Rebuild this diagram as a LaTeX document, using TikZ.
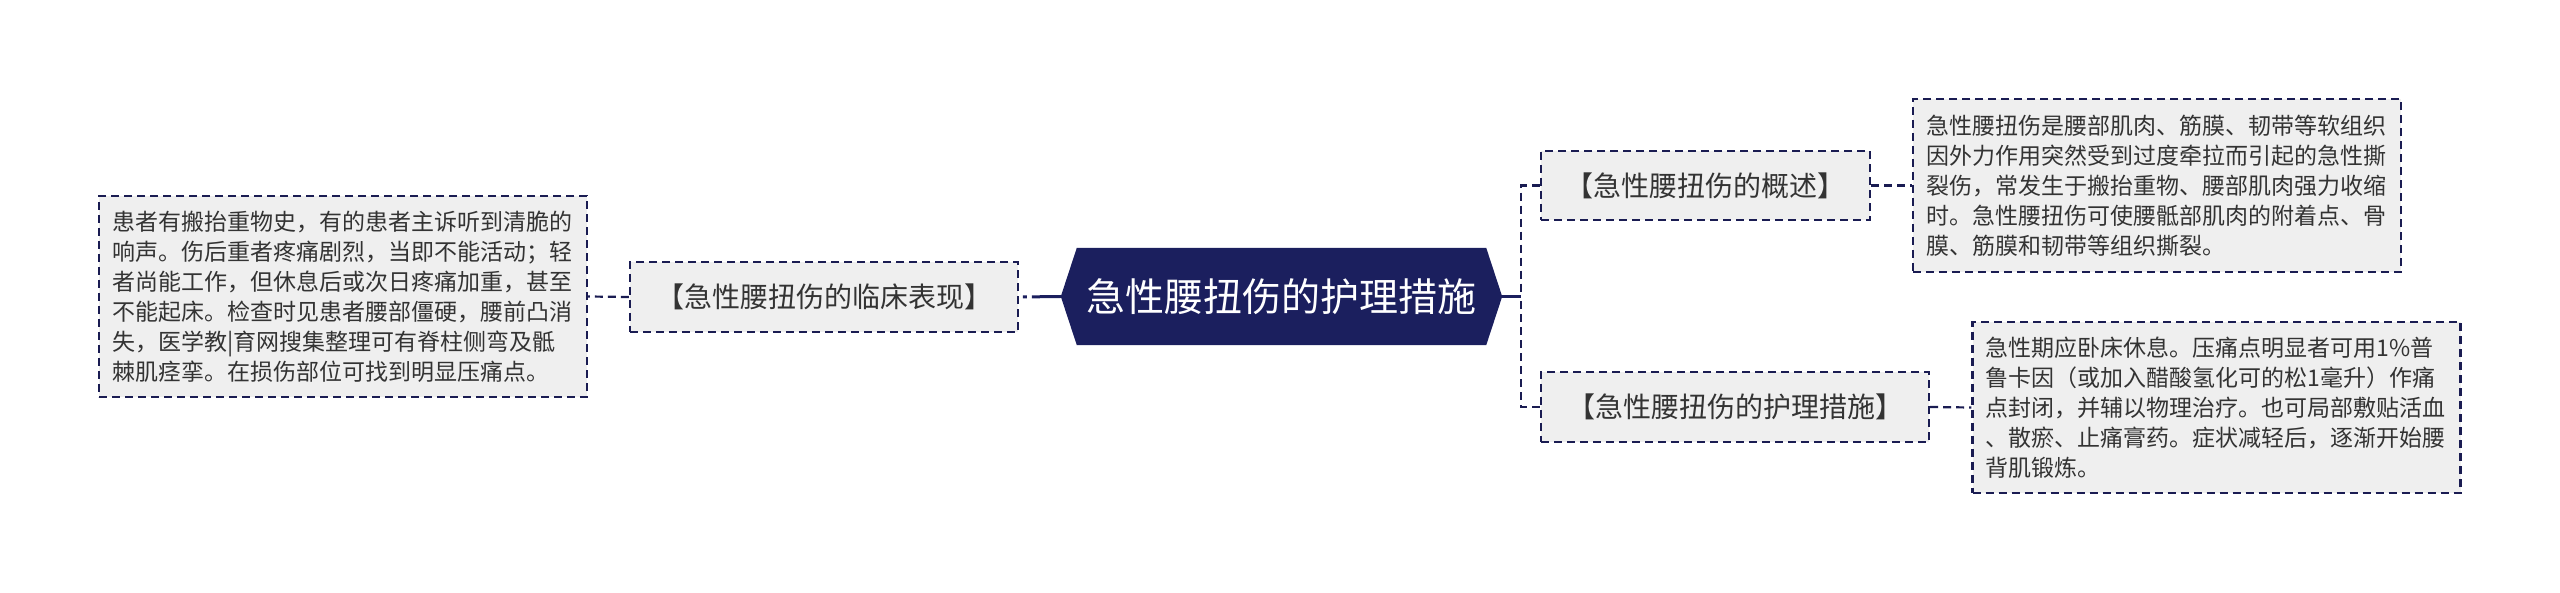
\documentclass[tikz,border=0pt]{standalone}
\usepackage{fontspec}
\setmainfont{Noto Sans CJK SC}
\usetikzlibrary{backgrounds}
\definecolor{navy}{HTML}{1B1F5E}
\definecolor{linenavy}{HTML}{1A1C52}
\definecolor{boxfill}{HTML}{EFEFEF}
\definecolor{txt}{HTML}{333333}
\begin{document}
\begin{tikzpicture}[x=1pt,y=-1pt,
  dbox/.style={draw=linenavy, line width=2.2pt, dash pattern=on 8pt off 5pt, fill=boxfill, text=txt, inner sep=0pt},
  branchbox/.style={dbox, font=\fontsize{28}{34}\selectfont, minimum height=70pt},
  detailbox/.style={dbox, font=\fontsize{23}{30}\selectfont, align=left, text width=462pt, inner xsep=13pt},
  dconn/.style={draw=linenavy, line width=2.2pt, dash pattern=on 8pt off 5pt},
  trunk/.style={draw=navy, line width=2.5pt},
]
\useasboundingbox (0,0) rectangle (2560,593);

% central topic
\node[font=\fontsize{39}{45}\selectfont, text=white, minimum width=441pt, minimum height=97pt, inner sep=0pt] (c) at (1281.5,296.5) {急性腰扭伤的护理措施};
\begin{scope}[on background layer]
  \fill[navy] (c.west) -- ([xshift=16pt]c.north west) -- ([xshift=-16pt]c.north east) -- (c.east)
    -- ([xshift=-16pt]c.south east) -- ([xshift=16pt]c.south west) -- cycle;
\end{scope}

% branches
\node[branchbox, minimum width=388pt] (lb) at (824,297) {【急性腰扭伤的临床表现】};
\node[branchbox, minimum width=329pt, minimum height=69pt] (tb) at (1705.5,185.5) {【急性腰扭伤的概述】};
\node[branchbox, minimum width=388pt] (bb) at (1735,407) {【急性腰扭伤的护理措施】};

% details
\node[detailbox, minimum height=201pt] (ld) at (343,296.5) {患者有搬抬重物史，有的患者主诉听到清脆的\\响声。伤后重者疼痛剧烈，当即不能活动；轻\\者尚能工作，但休息后或次日疼痛加重，甚至\\不能起床。检查时见患者腰部僵硬，腰前凸消\\失，医学教|育网搜集整理可有脊柱侧弯及骶\\棘肌痉挛。在损伤部位可找到明显压痛点。};
\node[detailbox, minimum height=173pt] (td) at (2157,185.5) {急性腰扭伤是腰部肌肉、筋膜、韧带等软组织\\因外力作用突然受到过度牵拉而引起的急性撕\\裂伤，常发生于搬抬重物、腰部肌肉强力收缩\\时。急性腰扭伤可使腰骶部肌肉的附着点、骨\\膜、筋膜和韧带等组织撕裂。};
\node[detailbox, minimum height=171pt] (bd) at (2216.5,407.5) {急性期应卧床休息。压痛点明显者可用1\%普\\鲁卡因（或加入醋酸氢化可的松1毫升）作痛\\点封闭，并辅以物理治疗。也可局部敷贴活血\\、散瘀、止痛膏药。症状减轻后，逐渐开始腰\\背肌锻炼。};

% connectors
\draw[navy, line width=3pt, dash pattern=on 29pt off 5pt on 4pt off 20pt] (c.west) -- (lb.east);
\coordinate (rj) at (1521,296.5);
\draw[trunk] (c.east) -- (rj);
\draw[dconn] (tb.west) -| (rj);
\draw[dconn] (bb.west) -| (rj);
\draw[dconn] (lb.west) -- (ld.east);
\draw[dconn] (tb.east) -- (td.west);
\draw[dconn] (bb.east) -- (bd.west);
\end{tikzpicture}
\end{document}
